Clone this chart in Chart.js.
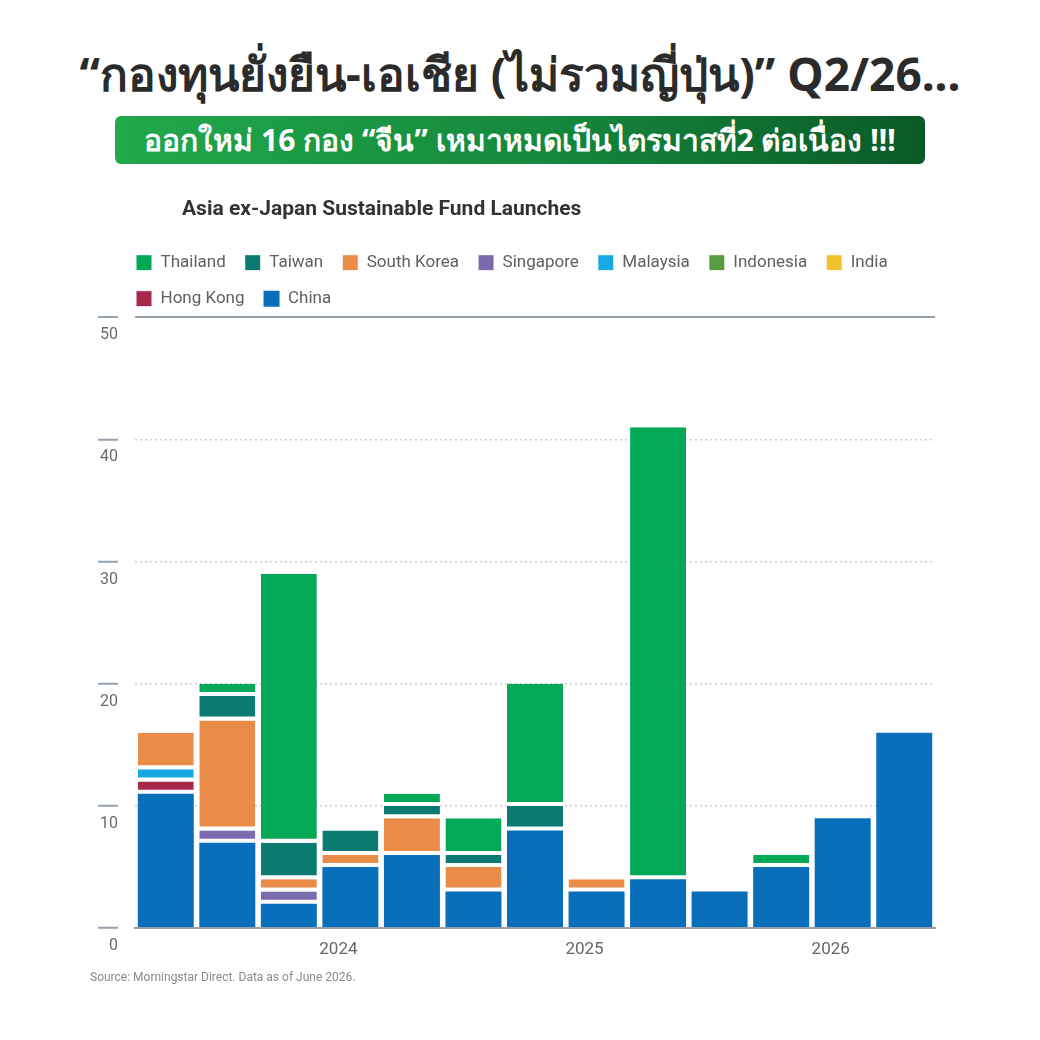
<!DOCTYPE html>
<html>
<head>
<meta charset="utf-8">
<script src="https://cdn.jsdelivr.net/npm/chart.js@4.4.1/dist/chart.umd.min.js"></script>
<style>
  html, body { margin: 0; padding: 0; background: #fff; }
  body { width: 1040px; height: 1040px; position: relative; overflow: hidden; font-family: "Noto Sans", sans-serif; }
  #headline {
    position: absolute; left: 0; top: 42px; width: 1040px;
    text-align: center; font-size: 46px; font-weight: 700; color: #2b2b2b;
    line-height: 62px; white-space: nowrap;
  }
  #banner {
    position: absolute; left: 115px; top: 116px; width: 810px; height: 48px;
    border-radius: 6px; background: linear-gradient(90deg, #22a94c 0%, #14873c 55%, #0a5a27 100%);
    color: #fff; text-align: center; font-size: 30px; font-weight: 700; line-height: 47px; white-space: nowrap;
  }
  #chartBox { position: absolute; left: 85px; top: 185px; width: 870px; height: 815px; }
</style>
</head>
<body>
<div id="headline">“กองทุนยั่งยืน-เอเชีย (ไม่รวมญี่ปุ่น)” Q2/26...</div>
<div id="banner">ออกใหม่ 16 กอง “จีน” เหมาหมดเป็นไตรมาสที่2 ต่อเนื่อง !!!</div>
<div id="chartBox"><canvas id="fundChart"></canvas></div>

<script>
// ไตรมาส Q2 2023 - Q2 2026
const quarters = ['Q2 2023', 'Q3 2023', 'Q4 2023', 'Q1 2024', 'Q2 2024', 'Q3 2024', 'Q4 2024',
                  'Q1 2025', 'Q2 2025', 'Q3 2025', 'Q4 2025', 'Q1 2026', 'Q2 2026'];

// จำนวนกองทุนที่ออกใหม่ต่อไตรมาส (อ่านจากภาพ)
const china     = [11, 7, 2, 5, 6, 3, 8, 3, 4, 3, 5, 9, 16];
const hongKong  = [1, 0, 0, 0, 0, 0, 0, 0, 0, 0, 0, 0, 0];
const india     = [0, 0, 0, 0, 0, 0, 0, 0, 0, 0, 0, 0, 0];
const indonesia = [0, 0, 0, 0, 0, 0, 0, 0, 0, 0, 0, 0, 0];
const malaysia  = [1, 0, 0, 0, 0, 0, 0, 0, 0, 0, 0, 0, 0];
const singapore = [0, 1, 1, 0, 0, 0, 0, 0, 0, 0, 0, 0, 0];
const southKorea = [3, 9, 1, 1, 3, 2, 0, 1, 0, 0, 0, 0, 0];
const taiwan    = [0, 2, 3, 2, 1, 1, 2, 0, 0, 0, 0, 0, 0];
const thailand  = [0, 1, 22, 0, 1, 3, 10, 0, 37, 0, 1, 0, 0];

const yTicks = [0, 10, 20, 30, 40, 50];

const axisGray = '#95a1ad';

// ลำดับจากล่างขึ้นบน (legend กลับด้าน)
const series = [
    { label: 'China', data: china, color: '#0a6fba' },
    { label: 'Hong Kong', data: hongKong, color: '#a8284a' },
    { label: 'India', data: india, color: '#f2c12e' },
    { label: 'Indonesia', data: indonesia, color: '#5b9b3f' },
    { label: 'Malaysia', data: malaysia, color: '#17a9e1' },
    { label: 'Singapore', data: singapore, color: '#7a6aae' },
    { label: 'South Korea', data: southKorea, color: '#e98c48' },
    { label: 'Taiwan', data: taiwan, color: '#0b7a70' },
    { label: 'Thailand', data: thailand, color: '#03a957' }
];

// เลื่อน title และ legend ไปทางขวาให้ตรงกับต้นฉบับ
const shiftBoxes = {
    id: 'shiftBoxes',
    afterLayout(chart) {
        const moves = [[chart.titleBlock, 92], [chart.legend, 27]];
        moves.forEach(([box, dx]) => {
            if (box) { box.left += dx; box.right += dx; }
        });
    }
};

const ctx = document.getElementById('fundChart').getContext('2d');
window.fundChart = new Chart(ctx, {
    type: 'bar',
    data: {
        labels: quarters,
        datasets: series.map((s, i) => ({
            label: s.label,
            data: s.data,
            backgroundColor: s.color,
            borderColor: '#ffffff',
            borderWidth: i === 0 ? 0 : { top: 0, right: 0, bottom: 4, left: 0 },
            borderSkipped: false,
            barPercentage: 0.91,
            categoryPercentage: 1.0
        }))
    },
    options: {
        responsive: true,
        maintainAspectRatio: false,
        animation: false,
        layout: { padding: { top: 4, left: 5, right: 20, bottom: 11 } },
        plugins: {
            title: {
                display: true,
                text: 'Asia ex-Japan Sustainable Fund Launches',
                align: 'start',
                color: '#333333',
                font: { family: 'Roboto', size: 21, weight: 'bold' },
                padding: { top: 8, bottom: 13 }
            },
            legend: {
                position: 'top',
                align: 'start',
                reverse: true,
                labels: {
                    boxWidth: 16,
                    boxHeight: 16,
                    padding: 19,
                    color: '#5f5f5f',
                    font: { family: 'Roboto', size: 17 }
                }
            },
            subtitle: {
                display: true,
                position: 'bottom',
                align: 'start',
                text: 'Source: Morningstar Direct. Data as of June 2026.',
                color: '#8a8a8a',
                font: { family: 'Roboto', size: 12 },
                padding: { top: 0, bottom: 4 }
            },
            tooltip: { enabled: false }
        },
        scales: {
            x: {
                stacked: true,
                grid: { display: false, drawTicks: false },
                border: { display: true, color: axisGray, width: 2, z: 1 },
                ticks: {
                    autoSkip: false,
                    maxRotation: 0,
                    padding: 11,
                    labelOffset: -12,
                    color: '#666666',
                    font: { family: 'Roboto', size: 17 },
                    callback: function(value) {
                        const q = this.getLabelForValue(value);
                        return q.startsWith('Q1') ? q.slice(3) : '';
                    }
                }
            },
            y: {
                stacked: true,
                min: yTicks[0],
                max: yTicks[yTicks.length - 1],
                afterBuildTicks: (scale) => { scale.ticks = yTicks.map(v => ({ value: v })); },
                afterFit: (scale) => { scale.width = 45; },
                border: {
                    display: false,
                    dash: (c) => (c.tick && c.tick.value === 50) ? [] : [2, 3]
                },
                grid: {
                    color: (c) => {
                        if (!c.tick) return 'rgba(0,0,0,0)';
                        if (c.tick.value === 50) return axisGray;
                        if (c.tick.value === 0) return 'rgba(0,0,0,0)';
                        return '#c8cdd3';
                    },
                    lineWidth: (c) => (c.tick && c.tick.value === 50) ? 2 : 1.5,
                    drawTicks: true,
                    tickLength: 37,
                    tickColor: axisGray,
                    tickWidth: 2,
                    tickBorderDash: [20, 40]
                },
                ticks: {
                    crossAlign: 'near',
                    padding: -20,
                    labelOffset: 18,
                    color: '#6b6b6b',
                    font: { family: 'Roboto', size: 16 }
                }
            }
        }
    },
    plugins: [shiftBoxes]
});
</script>
</body>
</html>
